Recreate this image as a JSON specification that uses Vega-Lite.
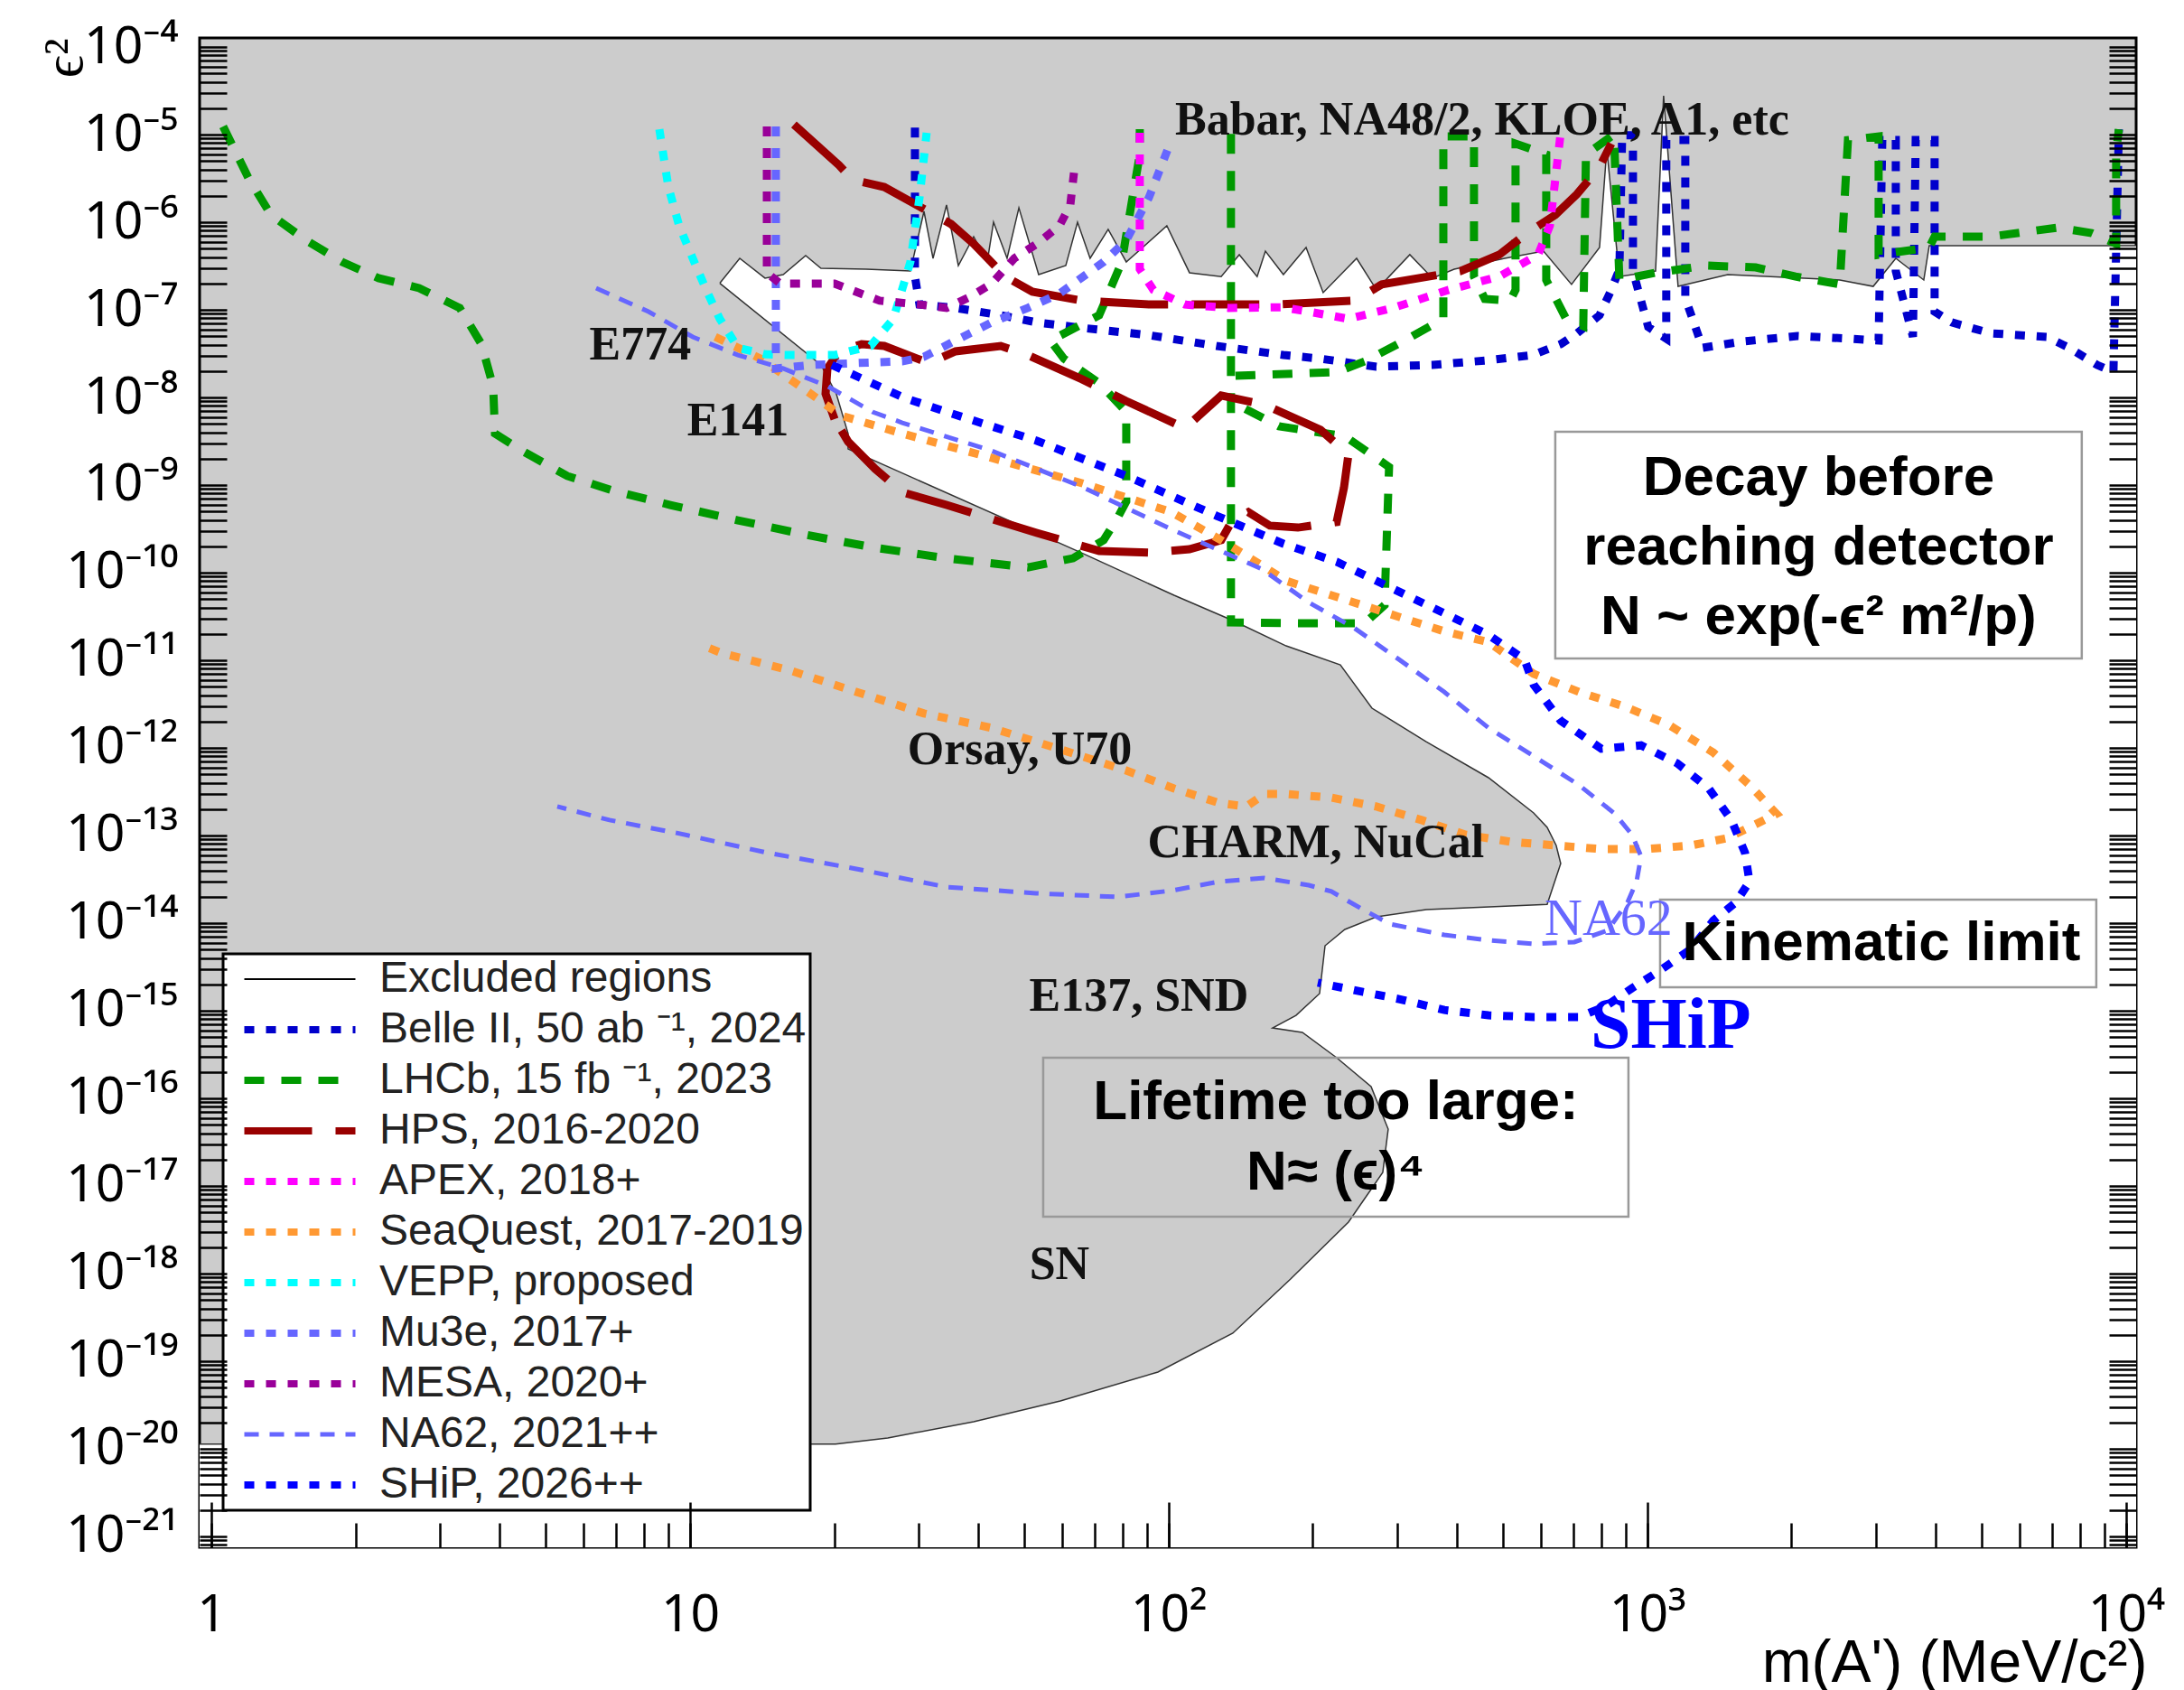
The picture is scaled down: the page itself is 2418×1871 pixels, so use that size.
{
  "$schema": "https://vega.github.io/schema/vega-lite/v6.json",
  "width": 2144,
  "height": 1671,
  "autosize": {"type": "none"},
  "padding": {"left": 221, "top": 42, "right": 53, "bottom": 158},
  "background": "white",
  "config": {
    "view": {"fill": "#cccccc", "stroke": "#000000", "strokeWidth": 3},
    "axis": {"grid": false, "domain": false, "zindex": 1, "tickColor": "#000000", "tickWidth": 2.5, "labelColor": "#000000", "titleColor": "#000000", "labelFont": "Noto Sans", "titleFont": "Liberation Sans", "titleFontWeight": "normal"}
  },
  "datasets": {
    "excluded": [
      {"m":11.54,"e2":2.01e-7},{"m":12.7,"e2":3.87e-7},{"m":14.34,"e2":2.3e-7},{"m":15.65,"e2":2.52e-7},{"m":17.44,"e2":4.16e-7},{"m":18.77,"e2":2.98e-7},{"m":23.33,"e2":2.91e-7},{"m":28.86,"e2":2.77e-7},{"m":30.81,"e2":1.33e-6},{"m":32.18,"e2":3.87e-7},{"m":34.34,"e2":1.57e-6},{"m":36.35,"e2":3.2e-7},{"m":39.13,"e2":6.84e-7},{"m":41.77,"e2":3.52e-7},{"m":43.05,"e2":1.0e-6},{"m":45.95,"e2":3.87e-7},{"m":48.64,"e2":1.46e-6},{"m":53.49,"e2":2.52e-7},{"m":60.95,"e2":3.2e-7},{"m":64.49,"e2":1.0e-6},{"m":68.51,"e2":3.87e-7},{"m":74.73,"e2":8.28e-7},{"m":81.52,"e2":3.52e-7},{"m":99.1,"e2":9.1e-7},{"m":110.5,"e2":2.65e-7},{"m":128.7,"e2":2.4e-7},{"m":140.4,"e2":4.26e-7},{"m":153,"e2":2.4e-7},{"m":159.2,"e2":4.68e-7},{"m":173.6,"e2":2.52e-7},{"m":193.6,"e2":5.14e-7},{"m":210.2,"e2":1.57e-7},{"m":246.9,"e2":3.87e-7},{"m":271.6,"e2":1.69e-7},{"m":318.9,"e2":4.26e-7},{"m":355.6,"e2":2.3e-7},{"m":394.8,"e2":2.91e-7},{"m":503.4,"e2":3.87e-7},{"m":606.7,"e2":4.68e-7},{"m":694.2,"e2":1.95e-7},{"m":794.3,"e2":5.14e-7},{"m":822.5,"e2":6.84e-6},{"m":874,"e2":2.4e-7},{"m":1040,"e2":2.77e-7},{"m":1081,"e2":2.77e-5},{"m":1159,"e2":1.85e-7},{"m":1472,"e2":2.52e-7},{"m":2523,"e2":2.19e-7},{"m":2963,"e2":1.85e-7},{"m":3303,"e2":3.87e-7},{"m":3779,"e2":2.19e-7},{"m":3879,"e2":5.4e-7},{"m":10600,"e2":5.4e-7},{"m":10600,"e2":5e-22},{"m":0.9,"e2":5e-22},{"m":0.9,"e2":1.13e-20},{"m":20.13,"e2":1.13e-20},{"m":25.89,"e2":1.33e-20},{"m":39.13,"e2":2.04e-20},{"m":59.38,"e2":3.52e-20},{"m":94.93,"e2":7.52e-20},{"m":136.1,"e2":2.09e-19},{"m":179.7,"e2":8.67e-19},{"m":237.4,"e2":3.87e-18},{"m":280,"e2":1.43e-17},{"m":287.4,"e2":4.46e-17},{"m":264.7,"e2":1.36e-16},{"m":224.3,"e2":2.91e-16},{"m":190.2,"e2":5.66e-16},{"m":164.8,"e2":6.37e-16},{"m":184.5,"e2":8.87e-16},{"m":206.6,"e2":1.57e-15},{"m":212.1,"e2":5.52e-15},{"m":233.3,"e2":8.47e-15},{"m":271.6,"e2":1.18e-14},{"m":345,"e2":1.43e-14},{"m":617.4,"e2":1.64e-14},{"m":659,"e2":4.79e-14},{"m":644.8,"e2":7.7e-14},{"m":617.4,"e2":1.24e-13},{"m":578.5,"e2":1.81e-13},{"m":465.6,"e2":4.57e-13},{"m":345,"e2":1.18e-12},{"m":265.8,"e2":2.84e-12},{"m":228.3,"e2":8.87e-12},{"m":175.9,"e2":1.46e-11},{"m":136.1,"e2":2.84e-11},{"m":102.6,"e2":5.52e-11},{"m":65.61,"e2":1.69e-10},{"m":25.45,"e2":1.69e-9},{"m":21.39,"e2":2.58e-9},{"m":21.39,"e2":3.87e-9},{"m":20.21,"e2":1.1e-8},{"m":18.77,"e2":2.35e-8},{"m":11.54,"e2":2.01e-7}
    ],
    "curves": [
      {"s":"Belle II, 50 ab ⁻¹, 2024","p":"be","m":29.5,"e2":1.2e-5},{"s":"Belle II, 50 ab ⁻¹, 2024","p":"be","m":29.5,"e2":2.4e-7},{"s":"Belle II, 50 ab ⁻¹, 2024","p":"be","m":30.15,"e2":1.15e-7},{"s":"Belle II, 50 ab ⁻¹, 2024","p":"be","m":35.86,"e2":1.05e-7},{"s":"Belle II, 50 ab ⁻¹, 2024","p":"be","m":44.58,"e2":8.67e-8},{"s":"Belle II, 50 ab ⁻¹, 2024","p":"be","m":53.02,"e2":7.18e-8},{"s":"Belle II, 50 ab ⁻¹, 2024","p":"be","m":65.9,"e2":6.22e-8},{"s":"Belle II, 50 ab ⁻¹, 2024","p":"be","m":90.88,"e2":5.14e-8},{"s":"Belle II, 50 ab ⁻¹, 2024","p":"be","m":125.9,"e2":3.87e-8},{"s":"Belle II, 50 ab ⁻¹, 2024","p":"be","m":173.6,"e2":3.05e-8},{"s":"Belle II, 50 ab ⁻¹, 2024","p":"be","m":207.5,"e2":2.77e-8},{"s":"Belle II, 50 ab ⁻¹, 2024","p":"be","m":271.6,"e2":2.24e-8},{"s":"Belle II, 50 ab ⁻¹, 2024","p":"be","m":355.6,"e2":2.35e-8},{"s":"Belle II, 50 ab ⁻¹, 2024","p":"be","m":463.4,"e2":2.65e-8},{"s":"Belle II, 50 ab ⁻¹, 2024","p":"be","m":576,"e2":3.05e-8},{"s":"Belle II, 50 ab ⁻¹, 2024","p":"be","m":659,"e2":4.06e-8},{"s":"Belle II, 50 ab ⁻¹, 2024","p":"be","m":712.6,"e2":5.4e-8},{"s":"Belle II, 50 ab ⁻¹, 2024","p":"be","m":794.3,"e2":8.67e-8},{"s":"Belle II, 50 ab ⁻¹, 2024","p":"be","m":840.5,"e2":1.69e-7},{"s":"Belle II, 50 ab ⁻¹, 2024","p":"be","m":874,"e2":2.91e-7},{"s":"Belle II, 50 ab ⁻¹, 2024","p":"be","m":885.6,"e2":9.8e-6},{"s":"Belle II, 50 ab ⁻¹, 2024","p":"be","m":932.9,"e2":9.8e-6},{"s":"Belle II, 50 ab ⁻¹, 2024","p":"be","m":932.9,"e2":2.77e-7},{"s":"Belle II, 50 ab ⁻¹, 2024","p":"be","m":1004,"e2":6.37e-8},{"s":"Belle II, 50 ab ⁻¹, 2024","p":"be","m":1095,"e2":4.68e-8},{"s":"Belle II, 50 ab ⁻¹, 2024","p":"be","m":1095,"e2":8.67e-6},{"s":"Belle II, 50 ab ⁻¹, 2024","p":"be","m":1200,"e2":8.67e-6},{"s":"Belle II, 50 ab ⁻¹, 2024","p":"be","m":1200,"e2":1.36e-7},{"s":"Belle II, 50 ab ⁻¹, 2024","p":"be","m":1304,"e2":3.69e-8},{"s":"Belle II, 50 ab ⁻¹, 2024","p":"be","m":1585,"e2":4.36e-8},{"s":"Belle II, 50 ab ⁻¹, 2024","p":"be","m":2057,"e2":5.02e-8},{"s":"Belle II, 50 ab ⁻¹, 2024","p":"be","m":2669,"e2":4.68e-8},{"s":"Belle II, 50 ab ⁻¹, 2024","p":"be","m":3041,"e2":4.46e-8},{"s":"Belle II, 50 ab ⁻¹, 2024","p":"be","m":3095,"e2":8.67e-6},{"s":"Belle II, 50 ab ⁻¹, 2024","p":"be","m":3303,"e2":8.67e-6},{"s":"Belle II, 50 ab ⁻¹, 2024","p":"be","m":3303,"e2":2.77e-7},{"s":"Belle II, 50 ab ⁻¹, 2024","p":"be","m":3587,"e2":4.91e-8},{"s":"Belle II, 50 ab ⁻¹, 2024","p":"be","m":3635,"e2":8.67e-6},{"s":"Belle II, 50 ab ⁻¹, 2024","p":"be","m":3981,"e2":8.67e-6},{"s":"Belle II, 50 ab ⁻¹, 2024","p":"be","m":3981,"e2":9.53e-8},{"s":"Belle II, 50 ab ⁻¹, 2024","p":"be","m":4323,"e2":7.18e-8},{"s":"Belle II, 50 ab ⁻¹, 2024","p":"be","m":5212,"e2":5.4e-8},{"s":"Belle II, 50 ab ⁻¹, 2024","p":"be","m":6823,"e2":4.91e-8},{"s":"Belle II, 50 ab ⁻¹, 2024","p":"be","m":7604,"e2":3.69e-8},{"s":"Belle II, 50 ab ⁻¹, 2024","p":"be","m":8700,"e2":2.35e-8},{"s":"Belle II, 50 ab ⁻¹, 2024","p":"be","m":9410,"e2":1.95e-8},{"s":"Belle II, 50 ab ⁻¹, 2024","p":"be","m":9659,"e2":1.15e-5},
      {"s":"LHCb, 15 fb ⁻¹, 2023","p":"l1","m":1.058,"e2":1.24e-5},{"s":"LHCb, 15 fb ⁻¹, 2023","p":"l1","m":1.195,"e2":3.2e-6},{"s":"LHCb, 15 fb ⁻¹, 2023","p":"l1","m":1.332,"e2":1.21e-6},{"s":"LHCb, 15 fb ⁻¹, 2023","p":"l1","m":1.578,"e2":6.22e-7},{"s":"LHCb, 15 fb ⁻¹, 2023","p":"l1","m":1.877,"e2":3.52e-7},{"s":"LHCb, 15 fb ⁻¹, 2023","p":"l1","m":2.234,"e2":2.3e-7},{"s":"LHCb, 15 fb ⁻¹, 2023","p":"l1","m":2.716,"e2":1.77e-7},{"s":"LHCb, 15 fb ⁻¹, 2023","p":"l1","m":3.303,"e2":1.05e-7},{"s":"LHCb, 15 fb ⁻¹, 2023","p":"l1","m":3.666,"e2":4.06e-8},{"s":"LHCb, 15 fb ⁻¹, 2023","p":"l1","m":3.879,"e2":1.33e-8},{"s":"LHCb, 15 fb ⁻¹, 2023","p":"l1","m":3.913,"e2":3.87e-9},{"s":"LHCb, 15 fb ⁻¹, 2023","p":"l1","m":4.459,"e2":2.46e-9},{"s":"LHCb, 15 fb ⁻¹, 2023","p":"l1","m":5.539,"e2":1.27e-9},{"s":"LHCb, 15 fb ⁻¹, 2023","p":"l1","m":6.882,"e2":8.67e-10},{"s":"LHCb, 15 fb ⁻¹, 2023","p":"l1","m":9.09,"e2":5.93e-10},{"s":"LHCb, 15 fb ⁻¹, 2023","p":"l1","m":12.59,"e2":3.96e-10},{"s":"LHCb, 15 fb ⁻¹, 2023","p":"l1","m":17.44,"e2":2.71e-10},{"s":"LHCb, 15 fb ⁻¹, 2023","p":"l1","m":24.05,"e2":1.95e-10},{"s":"LHCb, 15 fb ⁻¹, 2023","p":"l1","m":34.34,"e2":1.46e-10},{"s":"LHCb, 15 fb ⁻¹, 2023","p":"l1","m":50.78,"e2":1.15e-10},{"s":"LHCb, 15 fb ⁻¹, 2023","p":"l1","m":63.1,"e2":1.46e-10},{"s":"LHCb, 15 fb ⁻¹, 2023","p":"l1","m":73.13,"e2":2.35e-10},{"s":"LHCb, 15 fb ⁻¹, 2023","p":"l1","m":78.07,"e2":4.16e-10},{"s":"LHCb, 15 fb ⁻¹, 2023","p":"l1","m":81.52,"e2":6.52e-10},{"s":"LHCb, 15 fb ⁻¹, 2023","p":"l1","m":81.52,"e2":6.84e-9},{"s":"LHCb, 15 fb ⁻¹, 2023","p":"l1","m":71.55,"e2":1.46e-8},{"s":"LHCb, 15 fb ⁻¹, 2023","p":"l1","m":60.4,"e2":2.77e-8},{"s":"LHCb, 15 fb ⁻¹, 2023","p":"l1","m":56.58,"e2":4.46e-8},{"s":"LHCb, 15 fb ⁻¹, 2023","p":"l1","m":67.06,"e2":7.18e-8},{"s":"LHCb, 15 fb ⁻¹, 2023","p":"l1","m":71.55,"e2":8.67e-8},{"s":"LHCb, 15 fb ⁻¹, 2023","p":"l1","m":79.79,"e2":3.52e-7},{"s":"LHCb, 15 fb ⁻¹, 2023","p":"l1","m":83.33,"e2":1.46e-6},{"s":"LHCb, 15 fb ⁻¹, 2023","p":"l1","m":87,"e2":5.93e-6},{"s":"LHCb, 15 fb ⁻¹, 2023","p":"l1","m":87,"e2":1.15e-5},
      {"s":"LHCb, 15 fb ⁻¹, 2023","p":"l2","m":134.9,"e2":1.02e-5},{"s":"LHCb, 15 fb ⁻¹, 2023","p":"l2","m":134.9,"e2":2.71e-11},{"s":"LHCb, 15 fb ⁻¹, 2023","p":"l2","m":188.6,"e2":2.65e-11},{"s":"LHCb, 15 fb ⁻¹, 2023","p":"l2","m":256.7,"e2":2.65e-11},{"s":"LHCb, 15 fb ⁻¹, 2023","p":"l2","m":282.4,"e2":4.26e-11},{"s":"LHCb, 15 fb ⁻¹, 2023","p":"l2","m":288.6,"e2":1.61e-9},{"s":"LHCb, 15 fb ⁻¹, 2023","p":"l2","m":233.3,"e2":3.61e-9},{"s":"LHCb, 15 fb ⁻¹, 2023","p":"l2","m":169.9,"e2":4.68e-9},{"s":"LHCb, 15 fb ⁻¹, 2023","p":"l2","m":137.9,"e2":8.47e-9},
      {"s":"LHCb, 15 fb ⁻¹, 2023","p":"l3","m":137.9,"e2":1.77e-8},{"s":"LHCb, 15 fb ⁻¹, 2023","p":"l3","m":224.3,"e2":1.95e-8},{"s":"LHCb, 15 fb ⁻¹, 2023","p":"l3","m":256.7,"e2":2.58e-8},{"s":"LHCb, 15 fb ⁻¹, 2023","p":"l3","m":310.8,"e2":4.46e-8},{"s":"LHCb, 15 fb ⁻¹, 2023","p":"l3","m":374.7,"e2":7.88e-8},{"s":"LHCb, 15 fb ⁻¹, 2023","p":"l3","m":374.7,"e2":9.53e-6},{"s":"LHCb, 15 fb ⁻¹, 2023","p":"l3","m":434.2,"e2":9.53e-6},{"s":"LHCb, 15 fb ⁻¹, 2023","p":"l3","m":434.2,"e2":2.4e-7},{"s":"LHCb, 15 fb ⁻¹, 2023","p":"l3","m":457.5,"e2":1.33e-7},{"s":"LHCb, 15 fb ⁻¹, 2023","p":"l3","m":516.7,"e2":1.27e-7},{"s":"LHCb, 15 fb ⁻¹, 2023","p":"l3","m":530.3,"e2":1.69e-7},{"s":"LHCb, 15 fb ⁻¹, 2023","p":"l3","m":530.3,"e2":7.88e-6},{"s":"LHCb, 15 fb ⁻¹, 2023","p":"l3","m":614.7,"e2":5.93e-6},{"s":"LHCb, 15 fb ⁻¹, 2023","p":"l3","m":614.7,"e2":2.19e-7},{"s":"LHCb, 15 fb ⁻¹, 2023","p":"l3","m":676.4,"e2":7.88e-8},{"s":"LHCb, 15 fb ⁻¹, 2023","p":"l3","m":734.5,"e2":6.52e-8},{"s":"LHCb, 15 fb ⁻¹, 2023","p":"l3","m":744.1,"e2":5.93e-6},{"s":"LHCb, 15 fb ⁻¹, 2023","p":"l3","m":851.4,"e2":1.0e-5},{"s":"LHCb, 15 fb ⁻¹, 2023","p":"l3","m":874,"e2":2.19e-7},{"s":"LHCb, 15 fb ⁻¹, 2023","p":"l3","m":1040,"e2":2.65e-7},{"s":"LHCb, 15 fb ⁻¹, 2023","p":"l3","m":1326,"e2":3.2e-7},{"s":"LHCb, 15 fb ⁻¹, 2023","p":"l3","m":1684,"e2":3.05e-7},{"s":"LHCb, 15 fb ⁻¹, 2023","p":"l3","m":2039,"e2":2.4e-7},{"s":"LHCb, 15 fb ⁻¹, 2023","p":"l3","m":2523,"e2":1.95e-7},{"s":"LHCb, 15 fb ⁻¹, 2023","p":"l3","m":2624,"e2":8.67e-6},{"s":"LHCb, 15 fb ⁻¹, 2023","p":"l3","m":3041,"e2":9.53e-6},{"s":"LHCb, 15 fb ⁻¹, 2023","p":"l3","m":3041,"e2":4.26e-7},{"s":"LHCb, 15 fb ⁻¹, 2023","p":"l3","m":3879,"e2":5.14e-7},{"s":"LHCb, 15 fb ⁻¹, 2023","p":"l3","m":3981,"e2":6.84e-7},{"s":"LHCb, 15 fb ⁻¹, 2023","p":"l3","m":5212,"e2":6.84e-7},{"s":"LHCb, 15 fb ⁻¹, 2023","p":"l3","m":7190,"e2":8.67e-7},{"s":"LHCb, 15 fb ⁻¹, 2023","p":"l3","m":8477,"e2":7.52e-7},{"s":"LHCb, 15 fb ⁻¹, 2023","p":"l3","m":9533,"e2":5.66e-7},{"s":"LHCb, 15 fb ⁻¹, 2023","p":"l3","m":9533,"e2":6.52e-6},{"s":"LHCb, 15 fb ⁻¹, 2023","p":"l3","m":9659,"e2":1.15e-5},
      {"s":"HPS, 2016-2020","p":"h1","m":16.48,"e2":1.3e-5},{"s":"HPS, 2016-2020","p":"h1","m":20.48,"e2":4.46e-6},{"s":"HPS, 2016-2020","p":"h1","m":21.86,"e2":3.05e-6},{"s":"HPS, 2016-2020","p":"h1","m":25.45,"e2":2.52e-6},{"s":"HPS, 2016-2020","p":"h1","m":35.1,"e2":9.53e-7},{"s":"HPS, 2016-2020","p":"h1","m":39.13,"e2":5.66e-7},{"s":"HPS, 2016-2020","p":"h1","m":45.55,"e2":2.4e-7},{"s":"HPS, 2016-2020","p":"h1","m":51.89,"e2":1.61e-7},{"s":"HPS, 2016-2020","p":"h1","m":65.9,"e2":1.27e-7},{"s":"HPS, 2016-2020","p":"h1","m":90.88,"e2":1.15e-7},{"s":"HPS, 2016-2020","p":"h1","m":125.9,"e2":1.15e-7},{"s":"HPS, 2016-2020","p":"h1","m":167,"e2":1.15e-7},{"s":"HPS, 2016-2020","p":"h1","m":243.7,"e2":1.27e-7},{"s":"HPS, 2016-2020","p":"h1","m":278.8,"e2":1.95e-7},{"s":"HPS, 2016-2020","p":"h1","m":406.8,"e2":2.77e-7},{"s":"HPS, 2016-2020","p":"h1","m":490.4,"e2":4.26e-7},{"s":"HPS, 2016-2020","p":"h1","m":561,"e2":7.52e-7},{"s":"HPS, 2016-2020","p":"h1","m":641.9,"e2":1.21e-6},{"s":"HPS, 2016-2020","p":"h1","m":712.6,"e2":2.09e-6},{"s":"HPS, 2016-2020","p":"h1","m":794.3,"e2":4.26e-6},{"s":"HPS, 2016-2020","p":"h1","m":840.5,"e2":7.88e-6},
      {"s":"HPS, 2016-2020","p":"h2","m":20.04,"e2":5.66e-9},{"s":"HPS, 2016-2020","p":"h2","m":19.19,"e2":1.1e-8},{"s":"HPS, 2016-2020","p":"h2","m":19.36,"e2":2.14e-8},{"s":"HPS, 2016-2020","p":"h2","m":20.48,"e2":3.36e-8},{"s":"HPS, 2016-2020","p":"h2","m":22.83,"e2":4.06e-8},{"s":"HPS, 2016-2020","p":"h2","m":25.45,"e2":3.87e-8},{"s":"HPS, 2016-2020","p":"h2","m":31.49,"e2":2.47e-8},{"s":"HPS, 2016-2020","p":"h2","m":35.86,"e2":3.36e-8},{"s":"HPS, 2016-2020","p":"h2","m":44.58,"e2":3.87e-8},{"s":"HPS, 2016-2020","p":"h2","m":50.78,"e2":3.05e-8},{"s":"HPS, 2016-2020","p":"h2","m":65.9,"e2":1.61e-8},{"s":"HPS, 2016-2020","p":"h2","m":81.52,"e2":9.1e-9},{"s":"HPS, 2016-2020","p":"h2","m":108.1,"e2":4.46e-9},{"s":"HPS, 2016-2020","p":"h2","m":128.7,"e2":1.05e-8},{"s":"HPS, 2016-2020","p":"h2","m":158.5,"e2":8.28e-9},{"s":"HPS, 2016-2020","p":"h2","m":207.5,"e2":4.26e-9},{"s":"HPS, 2016-2020","p":"h2","m":237.4,"e2":2.24e-9},{"s":"HPS, 2016-2020","p":"h2","m":232.3,"e2":9.31e-10},{"s":"HPS, 2016-2020","p":"h2","m":224.3,"e2":3.78e-10},{"s":"HPS, 2016-2020","p":"h2","m":186.1,"e2":3.27e-10},{"s":"HPS, 2016-2020","p":"h2","m":162.7,"e2":3.44e-10},{"s":"HPS, 2016-2020","p":"h2","m":146.6,"e2":4.91e-10},{"s":"HPS, 2016-2020","p":"h2","m":136.1,"e2":4.06e-10},{"s":"HPS, 2016-2020","p":"h2","m":128.7,"e2":2.35e-10},{"s":"HPS, 2016-2020","p":"h2","m":110.5,"e2":1.85e-10},{"s":"HPS, 2016-2020","p":"h2","m":90.88,"e2":1.69e-10},{"s":"HPS, 2016-2020","p":"h2","m":71.55,"e2":1.77e-10},{"s":"HPS, 2016-2020","p":"h2","m":53.02,"e2":2.84e-10},{"s":"HPS, 2016-2020","p":"h2","m":34.34,"e2":5.93e-10},{"s":"HPS, 2016-2020","p":"h2","m":27.76,"e2":8.28e-10},{"s":"HPS, 2016-2020","p":"h2","m":24.37,"e2":1.53e-9},{"s":"HPS, 2016-2020","p":"h2","m":21.39,"e2":3.13e-9},{"s":"HPS, 2016-2020","p":"h2","m":20.04,"e2":5.66e-9},
      {"s":"APEX, 2018+","p":"ap","m":87,"e2":1.05e-5},{"s":"APEX, 2018+","p":"ap","m":87,"e2":2.91e-7},{"s":"APEX, 2018+","p":"ap","m":92.87,"e2":1.69e-7},{"s":"APEX, 2018+","p":"ap","m":108.1,"e2":1.15e-7},{"s":"APEX, 2018+","p":"ap","m":133.2,"e2":1.05e-7},{"s":"APEX, 2018+","p":"ap","m":172.9,"e2":1.07e-7},{"s":"APEX, 2018+","p":"ap","m":196.1,"e2":9.53e-8},{"s":"APEX, 2018+","p":"ap","m":237.4,"e2":7.88e-8},{"s":"APEX, 2018+","p":"ap","m":293.8,"e2":1.05e-7},{"s":"APEX, 2018+","p":"ap","m":384.6,"e2":1.69e-7},{"s":"APEX, 2018+","p":"ap","m":490.4,"e2":2.4e-7},{"s":"APEX, 2018+","p":"ap","m":591.1,"e2":4.26e-7},{"s":"APEX, 2018+","p":"ap","m":625.5,"e2":9.1e-7},{"s":"APEX, 2018+","p":"ap","m":641.9,"e2":3.05e-6},{"s":"APEX, 2018+","p":"ap","m":659,"e2":1.05e-5},
      {"s":"SeaQuest, 2017-2019","p":"sq","m":11.29,"e2":4.91e-8},{"s":"SeaQuest, 2017-2019","p":"sq","m":14.04,"e2":2.77e-8},{"s":"SeaQuest, 2017-2019","p":"sq","m":17.44,"e2":1.21e-8},{"s":"SeaQuest, 2017-2019","p":"sq","m":20.66,"e2":6.22e-9},{"s":"SeaQuest, 2017-2019","p":"sq","m":27.76,"e2":3.87e-9},{"s":"SeaQuest, 2017-2019","p":"sq","m":42.67,"e2":2.04e-9},{"s":"SeaQuest, 2017-2019","p":"sq","m":65.9,"e2":1.05e-9},{"s":"SeaQuest, 2017-2019","p":"sq","m":101.3,"e2":4.91e-10},{"s":"SeaQuest, 2017-2019","p":"sq","m":128.7,"e2":2.35e-10},{"s":"SeaQuest, 2017-2019","p":"sq","m":156.5,"e2":1.21e-10},{"s":"SeaQuest, 2017-2019","p":"sq","m":175.9,"e2":8.07e-11},{"s":"SeaQuest, 2017-2019","p":"sq","m":243.7,"e2":4.57e-11},{"s":"SeaQuest, 2017-2019","p":"sq","m":302.8,"e2":3.13e-11},{"s":"SeaQuest, 2017-2019","p":"sq","m":376.3,"e2":2.14e-11},{"s":"SeaQuest, 2017-2019","p":"sq","m":465.6,"e2":1.61e-11},{"s":"SeaQuest, 2017-2019","p":"sq","m":578.5,"e2":7.0e-12},{"s":"SeaQuest, 2017-2019","p":"sq","m":718.9,"e2":4.36e-12},{"s":"SeaQuest, 2017-2019","p":"sq","m":893.2,"e2":2.98e-12},{"s":"SeaQuest, 2017-2019","p":"sq","m":1105,"e2":1.85e-12},{"s":"SeaQuest, 2017-2019","p":"sq","m":1373,"e2":8.87e-13},{"s":"SeaQuest, 2017-2019","p":"sq","m":1634,"e2":3.78e-13},{"s":"SeaQuest, 2017-2019","p":"sq","m":1861,"e2":1.77e-13},{"s":"SeaQuest, 2017-2019","p":"sq","m":1634,"e2":1.24e-13},{"s":"SeaQuest, 2017-2019","p":"sq","m":1466,"e2":9.31e-14},{"s":"SeaQuest, 2017-2019","p":"sq","m":1232,"e2":7.7e-14},{"s":"SeaQuest, 2017-2019","p":"sq","m":991.3,"e2":7.0e-14},{"s":"SeaQuest, 2017-2019","p":"sq","m":801.3,"e2":7.0e-14},{"s":"SeaQuest, 2017-2019","p":"sq","m":644.8,"e2":7.7e-14},{"s":"SeaQuest, 2017-2019","p":"sq","m":518.9,"e2":8.47e-14},{"s":"SeaQuest, 2017-2019","p":"sq","m":417.7,"e2":1.02e-13},{"s":"SeaQuest, 2017-2019","p":"sq","m":337.6,"e2":1.5e-13},{"s":"SeaQuest, 2017-2019","p":"sq","m":271.6,"e2":2.14e-13},{"s":"SeaQuest, 2017-2019","p":"sq","m":218.6,"e2":2.71e-13},{"s":"SeaQuest, 2017-2019","p":"sq","m":175.9,"e2":2.98e-13},{"s":"SeaQuest, 2017-2019","p":"sq","m":158.5,"e2":2.98e-13},{"s":"SeaQuest, 2017-2019","p":"sq","m":145.3,"e2":2.14e-13},{"s":"SeaQuest, 2017-2019","p":"sq","m":127.5,"e2":2.35e-13},{"s":"SeaQuest, 2017-2019","p":"sq","m":102.6,"e2":3.44e-13},{"s":"SeaQuest, 2017-2019","p":"sq","m":81.52,"e2":5.52e-13},{"s":"SeaQuest, 2017-2019","p":"sq","m":58.86,"e2":9.77e-13},{"s":"SeaQuest, 2017-2019","p":"sq","m":42.67,"e2":1.69e-12},{"s":"SeaQuest, 2017-2019","p":"sq","m":30.81,"e2":2.47e-12},{"s":"SeaQuest, 2017-2019","p":"sq","m":22.25,"e2":4.36e-12},{"s":"SeaQuest, 2017-2019","p":"sq","m":16.12,"e2":7.71e-12},{"s":"SeaQuest, 2017-2019","p":"sq","m":11.64,"e2":1.21e-11},{"s":"SeaQuest, 2017-2019","p":"sq","m":10.67,"e2":1.46e-11},
      {"s":"VEPP, proposed","p":"ve","m":8.627,"e2":1.15e-5},{"s":"VEPP, proposed","p":"ve","m":9.01,"e2":2.52e-6},{"s":"VEPP, proposed","p":"ve","m":9.49,"e2":9.1e-7},{"s":"VEPP, proposed","p":"ve","m":10.13,"e2":3.87e-7},{"s":"VEPP, proposed","p":"ve","m":10.81,"e2":1.69e-7},{"s":"VEPP, proposed","p":"ve","m":11.54,"e2":7.88e-8},{"s":"VEPP, proposed","p":"ve","m":12.59,"e2":3.69e-8},{"s":"VEPP, proposed","p":"ve","m":14.4,"e2":3.1e-8},{"s":"VEPP, proposed","p":"ve","m":16.12,"e2":3.05e-8},{"s":"VEPP, proposed","p":"ve","m":20.04,"e2":3.05e-8},{"s":"VEPP, proposed","p":"ve","m":23.84,"e2":3.87e-8},{"s":"VEPP, proposed","p":"ve","m":26.58,"e2":7.88e-8},{"s":"VEPP, proposed","p":"ve","m":28.86,"e2":3.52e-7},{"s":"VEPP, proposed","p":"ve","m":30.15,"e2":1.9e-6},{"s":"VEPP, proposed","p":"ve","m":31.21,"e2":1.05e-5},
      {"s":"Mu3e, 2017+","p":"mu","m":15.11,"e2":1.24e-5},{"s":"Mu3e, 2017+","p":"mu","m":15.11,"e2":2.14e-8},{"s":"Mu3e, 2017+","p":"mu","m":17.97,"e2":2.35e-8},{"s":"Mu3e, 2017+","p":"mu","m":22.34,"e2":2.47e-8},{"s":"Mu3e, 2017+","p":"mu","m":27.76,"e2":2.58e-8},{"s":"Mu3e, 2017+","p":"mu","m":30.81,"e2":2.91e-8},{"s":"Mu3e, 2017+","p":"mu","m":35.86,"e2":4.46e-8},{"s":"Mu3e, 2017+","p":"mu","m":42.67,"e2":7.18e-8},{"s":"Mu3e, 2017+","p":"mu","m":50.78,"e2":1.05e-7},{"s":"Mu3e, 2017+","p":"mu","m":59.12,"e2":1.53e-7},{"s":"Mu3e, 2017+","p":"mu","m":73.13,"e2":3.52e-7},{"s":"Mu3e, 2017+","p":"mu","m":81.52,"e2":6.22e-7},{"s":"Mu3e, 2017+","p":"mu","m":90.88,"e2":1.9e-6},{"s":"Mu3e, 2017+","p":"mu","m":101.3,"e2":8.67e-6},
      {"s":"MESA, 2020+","p":"me","m":14.47,"e2":1.24e-5},{"s":"MESA, 2020+","p":"me","m":14.47,"e2":2.65e-7},{"s":"MESA, 2020+","p":"me","m":15.44,"e2":1.99e-7},{"s":"MESA, 2020+","p":"me","m":20.04,"e2":1.99e-7},{"s":"MESA, 2020+","p":"me","m":24.9,"e2":1.27e-7},{"s":"MESA, 2020+","p":"me","m":30.15,"e2":1.15e-7},{"s":"MESA, 2020+","p":"me","m":34.34,"e2":1.05e-7},{"s":"MESA, 2020+","p":"me","m":38.28,"e2":1.39e-7},{"s":"MESA, 2020+","p":"me","m":42.67,"e2":1.99e-7},{"s":"MESA, 2020+","p":"me","m":47.59,"e2":3.87e-7},{"s":"MESA, 2020+","p":"me","m":53.02,"e2":5.66e-7},{"s":"MESA, 2020+","p":"me","m":59.12,"e2":9.1e-7},{"s":"MESA, 2020+","p":"me","m":62.28,"e2":1.57e-6},{"s":"MESA, 2020+","p":"me","m":63.65,"e2":4.46e-6},
      {"s":"SHiP, 2026++","p":"sh","m":19.78,"e2":2.35e-8},{"s":"SHiP, 2026++","p":"sh","m":23.03,"e2":1.61e-8},{"s":"SHiP, 2026++","p":"sh","m":27.88,"e2":1.0e-8},{"s":"SHiP, 2026++","p":"sh","m":34.34,"e2":6.84e-9},{"s":"SHiP, 2026++","p":"sh","m":53.02,"e2":3.2e-9},{"s":"SHiP, 2026++","p":"sh","m":81.52,"e2":1.27e-9},{"s":"SHiP, 2026++","p":"sh","m":125.9,"e2":4.46e-10},{"s":"SHiP, 2026++","p":"sh","m":173.6,"e2":2.14e-10},{"s":"SHiP, 2026++","p":"sh","m":224.3,"e2":1.33e-10},{"s":"SHiP, 2026++","p":"sh","m":271.6,"e2":8.07e-11},{"s":"SHiP, 2026++","p":"sh","m":376.3,"e2":3.44e-11},{"s":"SHiP, 2026++","p":"sh","m":465.6,"e2":1.95e-11},{"s":"SHiP, 2026++","p":"sh","m":553.7,"e2":1.02e-11},{"s":"SHiP, 2026++","p":"sh","m":578.5,"e2":5.27e-12},{"s":"SHiP, 2026++","p":"sh","m":659,"e2":2.04e-12},{"s":"SHiP, 2026++","p":"sh","m":801.3,"e2":9.77e-13},{"s":"SHiP, 2026++","p":"sh","m":970,"e2":1.07e-12},{"s":"SHiP, 2026++","p":"sh","m":1154,"e2":6.68e-13},{"s":"SHiP, 2026++","p":"sh","m":1344,"e2":3.44e-13},{"s":"SHiP, 2026++","p":"sh","m":1498,"e2":1.5e-13},{"s":"SHiP, 2026++","p":"sh","m":1599,"e2":6.37e-14},{"s":"SHiP, 2026++","p":"sh","m":1634,"e2":2.98e-14},{"s":"SHiP, 2026++","p":"sh","m":1531,"e2":1.73e-14},{"s":"SHiP, 2026++","p":"sh","m":1373,"e2":1.07e-14},{"s":"SHiP, 2026++","p":"sh","m":1232,"e2":5.02e-15},{"s":"SHiP, 2026++","p":"sh","m":1058,"e2":2.84e-15},{"s":"SHiP, 2026++","p":"sh","m":928.8,"e2":1.81e-15},{"s":"SHiP, 2026++","p":"sh","m":818.9,"e2":1.13e-15},{"s":"SHiP, 2026++","p":"sh","m":718.9,"e2":8.47e-16},{"s":"SHiP, 2026++","p":"sh","m":578.5,"e2":8.47e-16},{"s":"SHiP, 2026++","p":"sh","m":465.6,"e2":8.87e-16},{"s":"SHiP, 2026++","p":"sh","m":376.3,"e2":1.02e-15},{"s":"SHiP, 2026++","p":"sh","m":302.8,"e2":1.36e-15},{"s":"SHiP, 2026++","p":"sh","m":254.5,"e2":1.64e-15},{"s":"SHiP, 2026++","p":"sh","m":204.8,"e2":2.09e-15}
    ],
    "na62": [
      {"s":" NA62, 2021++","p":"na","m":6.364,"e2":1.77e-7},{"s":" NA62, 2021++","p":"na","m":8.189,"e2":9.53e-8},{"s":" NA62, 2021++","p":"na","m":10.13,"e2":4.91e-8},{"s":" NA62, 2021++","p":"na","m":12.59,"e2":3.05e-8},{"s":" NA62, 2021++","p":"na","m":15.65,"e2":2.14e-8},{"s":" NA62, 2021++","p":"na","m":19.44,"e2":1.33e-8},{"s":" NA62, 2021++","p":"na","m":24.05,"e2":6.84e-9},{"s":" NA62, 2021++","p":"na","m":27.76,"e2":5.14e-9},{"s":" NA62, 2021++","p":"na","m":42.67,"e2":2.46e-9},{"s":" NA62, 2021++","p":"na","m":65.9,"e2":9.53e-10},{"s":" NA62, 2021++","p":"na","m":101.3,"e2":3.13e-10},{"s":" NA62, 2021++","p":"na","m":156.5,"e2":1.1e-10},{"s":" NA62, 2021++","p":"na","m":196.1,"e2":4.57e-11},{"s":" NA62, 2021++","p":"na","m":243.7,"e2":2.35e-11},{"s":" NA62, 2021++","p":"na","m":302.8,"e2":1.02e-11},{"s":" NA62, 2021++","p":"na","m":376.3,"e2":4.36e-12},{"s":" NA62, 2021++","p":"na","m":465.6,"e2":1.69e-12},{"s":" NA62, 2021++","p":"na","m":578.5,"e2":8.07e-13},{"s":" NA62, 2021++","p":"na","m":718.9,"e2":3.78e-13},{"s":" NA62, 2021++","p":"na","m":855.2,"e2":1.77e-13},{"s":" NA62, 2021++","p":"na","m":928.8,"e2":1.02e-13},{"s":" NA62, 2021++","p":"na","m":970,"e2":5.8e-14},{"s":" NA62, 2021++","p":"na","m":949.3,"e2":2.98e-14},{"s":" NA62, 2021++","p":"na","m":908.8,"e2":1.73e-14},{"s":" NA62, 2021++","p":"na","m":826,"e2":8.28e-15},{"s":" NA62, 2021++","p":"na","m":703.6,"e2":6.08e-15},{"s":" NA62, 2021++","p":"na","m":578.5,"e2":5.8e-15},{"s":" NA62, 2021++","p":"na","m":465.6,"e2":6.37e-15},{"s":" NA62, 2021++","p":"na","m":376.3,"e2":7.34e-15},{"s":" NA62, 2021++","p":"na","m":290,"e2":9.77e-15},{"s":" NA62, 2021++","p":"na","m":254.5,"e2":1.43e-14},{"s":" NA62, 2021++","p":"na","m":218.6,"e2":2.3e-14},{"s":" NA62, 2021++","p":"na","m":196.1,"e2":2.71e-14},{"s":" NA62, 2021++","p":"na","m":158.5,"e2":3.27e-14},{"s":" NA62, 2021++","p":"na","m":127.5,"e2":2.98e-14},{"s":" NA62, 2021++","p":"na","m":101.3,"e2":2.35e-14},{"s":" NA62, 2021++","p":"na","m":78.07,"e2":1.99e-14},{"s":" NA62, 2021++","p":"na","m":52.8,"e2":2.19e-14},{"s":" NA62, 2021++","p":"na","m":34.34,"e2":2.58e-14},{"s":" NA62, 2021++","p":"na","m":22.25,"e2":4.16e-14},{"s":" NA62, 2021++","p":"na","m":14.47,"e2":6.37e-14},{"s":" NA62, 2021++","p":"na","m":9.37,"e2":1.07e-13},{"s":" NA62, 2021++","p":"na","m":6.79,"e2":1.5e-13},{"s":" NA62, 2021++","p":"na","m":5.28,"e2":2.14e-13}
    ],
    "boxes": [
      {"m":642,"m2":8080,"e2":4.06e-9,"e2b":1.05e-11},
      {"m":1063,"m2":8665,"e2":1.85e-14,"e2b":1.85e-15},
      {"m":54.67,"m2":912.8,"e2":2.91e-16,"e2b":4.46e-18}
    ],
    "regionLabels": [
      {"m":451.5,"e2":1.46e-5,"t":"Babar, NA48/2, KLOE, A1, etc"},
      {"m":7.87,"e2":3.96e-8,"t":"E774"},
      {"m":12.59,"e2":5.4e-9,"t":"E141"},
      {"m":48.84,"e2":9.55e-13,"t":"Orsay, U70"},
      {"m":203,"e2":8.28e-14,"t":"CHARM, NuCal"},
      {"m":86.6,"e2":1.46e-15,"t":"E137, SND"},
      {"m":59.1,"e2":1.27e-18,"t":"SN"}
    ],
    "na62Label": [{"m":829.7,"e2":1.1e-14,"t":"NA62"}],
    "shipLabel": [{"m":1119,"e2":6.68e-16,"t":"SHiP"}],
    "boxText": [
      {"m":2278,"e2":1.21e-9,"t":"Decay before"},
      {"m":2278,"e2":1.95e-10,"t":"reaching detector"},
      {"m":2278,"e2":3.13e-11,"t":"N ~ exp(-ϵ² m²/p)"},
      {"m":3081,"e2":5.93e-15,"t":"Kinematic limit"},
      {"m":223.4,"e2":9.1e-17,"t":"Lifetime too large:"},
      {"m":223.4,"e2":1.43e-17,"t":"N≈ (ϵ)⁴"}
    ]
  },
  "resolve": {"axis": {"x": "independent", "y": "independent"}},
  "encoding": {
    "x": {"field": "m", "type": "quantitative", "scale": {"type": "log", "domain": [0.945, 10495], "nice": false}, "axis": null},
    "y": {"field": "e2", "type": "quantitative", "scale": {"type": "log", "domain": [7.52e-22, 1.268e-4], "nice": false}, "axis": null}
  },
  "layer": [
    {
      "data": {"name": "excluded"},
      "mark": {"type": "line", "fill": "#ffffff", "stroke": "#333333", "strokeWidth": 1.5, "clip": true},
      "encoding": {
        "x": {"field": "m", "type": "quantitative", "scale": {"type": "log", "domain": [0.945, 10495], "nice": false},
          "axis": {"orient": "bottom", "zindex": 1, "tickCount": 20, "tickSize": -27, "labelExpr": "abs(log(datum.value)/LN10 - round(log(datum.value)/LN10)) < 0.01 ? ['1','10','10²','10³','10⁴'][round(log(datum.value)/LN10)] : ''", "labelFontSize": 57, "labelPadding": 74, "labelOverlap": false, "labelFlush": false, "labelBound": false, "title": "m(A') (MeV/c²)", "titleFontSize": 66, "titleX": 2156, "titleY": 128, "titleAlign": "right", "titleBaseline": "middle"}},
        "y": {"field": "e2", "type": "quantitative", "scale": {"type": "log", "domain": [7.52e-22, 1.268e-4], "nice": false},
          "axis": {"orient": "left", "zindex": 1, "tickCount": 50, "tickSize": -30, "labelExpr": "abs(log(datum.value)/LN10 - round(log(datum.value)/LN10)) < 0.01 ? '10' + ['⁰','⁻¹','⁻²','⁻³','⁻⁴','⁻⁵','⁻⁶','⁻⁷','⁻⁸','⁻⁹','⁻¹⁰','⁻¹¹','⁻¹²','⁻¹³','⁻¹⁴','⁻¹⁵','⁻¹⁶','⁻¹⁷','⁻¹⁸','⁻¹⁹','⁻²⁰','⁻²¹'][-round(log(datum.value)/LN10)] : ''", "labelFontSize": 57, "labelPadding": 54, "labelAlign": "right", "labelBaseline": "middle", "labelOverlap": false, "labelFlush": false, "labelBound": false, "title": "ϵ²", "titleFont": "Liberation Serif", "titleFontSize": 62, "titleAngle": 270, "titleAlign": "right", "titleBaseline": "middle", "titleX": -150, "titleY": 0}},
        "order": {"value": null}
      }
    },
    {
      "data": {"name": "boxes"},
      "mark": {"type": "rect", "fill": "transparent", "stroke": "#999999", "strokeWidth": 2.5},
      "encoding": {
        "x": {"field": "m", "type": "quantitative", "scale": {"type": "log", "domain": [0.945, 10495], "nice": false},
          "axis": {"orient": "bottom", "zindex": 1, "values": [1, 10, 100, 1000, 10000], "tickSize": -50, "labels": false, "title": null}},
        "x2": {"field": "m2"},
        "y": {"field": "e2", "type": "quantitative", "scale": {"type": "log", "domain": [7.52e-22, 1.268e-4], "nice": false},
          "axis": {"orient": "right", "zindex": 1, "tickCount": 50, "tickSize": -30, "labels": false, "title": null}},
        "y2": {"field": "e2b"}
      }
    },
    {
      "data": {"name": "curves"},
      "mark": {"type": "line", "strokeWidth": 9, "clip": true},
      "encoding": {
        "color": {"field": "s", "type": "nominal",
          "scale": {"domain": ["Excluded regions", "Belle II, 50 ab ⁻¹, 2024", "LHCb, 15 fb ⁻¹, 2023", "HPS, 2016-2020", "APEX, 2018+", "SeaQuest, 2017-2019", "VEPP, proposed", "Mu3e, 2017+", "MESA, 2020+", " NA62, 2021++", "SHiP, 2026++"],
                    "range": ["#000000", "#0000cc", "#009900", "#990000", "#ff00ff", "#ff9933", "#00ffff", "#6666ff", "#990099", "#6666ff", "#0000ff"]},
          "legend": {"orient": "none", "legendX": 26, "legendY": 1014, "title": null, "direction": "vertical", "fillColor": "#ffffff", "strokeColor": "#000000", "padding": 4, "rowPadding": 8, "labelFont": "Liberation Sans", "labelFontSize": 48, "labelColor": "#222222", "labelLimit": 0, "labelExpr": "datum.label + '        '", "symbolType": "M-1,0H5", "symbolSize": 1681, "symbolOffset": 16, "labelOffset": 105, "symbolStrokeWidth": 8,
            "encode": {"symbols": {
              "enter": {"strokeDash": {"signal": "datum.value === 'HPS, 2016-2020' ? [1, 0] : scale('strokeDash', datum.value)"}},
              "update": {"strokeWidth": {"signal": "datum.value === 'Excluded regions' ? 2 : datum.value === ' NA62, 2021++' ? 5 : 8"}, "strokeDash": {"signal": "datum.value === 'HPS, 2016-2020' ? [1, 0] : scale('strokeDash', datum.value)"}}}, "legend": {"update": {"strokeWidth": {"value": 3}}}}}},
        "strokeDash": {"field": "s", "type": "nominal",
          "scale": {"domain": ["Excluded regions", "Belle II, 50 ab ⁻¹, 2024", "LHCb, 15 fb ⁻¹, 2023", "HPS, 2016-2020", "APEX, 2018+", "SeaQuest, 2017-2019", "VEPP, proposed", "Mu3e, 2017+", "MESA, 2020+", " NA62, 2021++", "SHiP, 2026++"],
                    "range": [[1, 0], [11, 13], [22, 19], [75, 26], [11, 13], [11, 13], [11, 13], [11, 13], [11, 13], [16, 12], [11, 13]]}},
        "detail": {"field": "p"},
        "order": {"value": null}
      }
    },
    {
      "data": {"name": "na62"},
      "mark": {"type": "line", "strokeWidth": 5, "clip": true},
      "encoding": {
        "color": {"field": "s", "type": "nominal"},
        "strokeDash": {"field": "s", "type": "nominal"},
        "detail": {"field": "p"},
        "order": {"value": null}
      }
    },
    {
      "data": {"name": "regionLabels"},
      "mark": {"type": "text", "font": "Liberation Serif", "fontWeight": "bold", "fontSize": 52, "fill": "#111111", "align": "center", "baseline": "middle"},
      "encoding": {"text": {"field": "t"}}
    },
    {
      "data": {"name": "na62Label"},
      "mark": {"type": "text", "font": "Liberation Serif", "fontSize": 58, "fill": "#6666ff", "align": "center", "baseline": "middle"},
      "encoding": {"text": {"field": "t"}}
    },
    {
      "data": {"name": "shipLabel"},
      "mark": {"type": "text", "font": "Liberation Serif", "fontWeight": "bold", "fontSize": 80, "fill": "#0000ff", "align": "center", "baseline": "middle"},
      "encoding": {"text": {"field": "t"}}
    },
    {
      "data": {"name": "boxText"},
      "mark": {"type": "text", "font": "Liberation Sans", "fontWeight": "bold", "fontSize": 62, "fill": "#000000", "align": "center", "baseline": "middle"},
      "encoding": {"text": {"field": "t"}}
    }
  ]
}
